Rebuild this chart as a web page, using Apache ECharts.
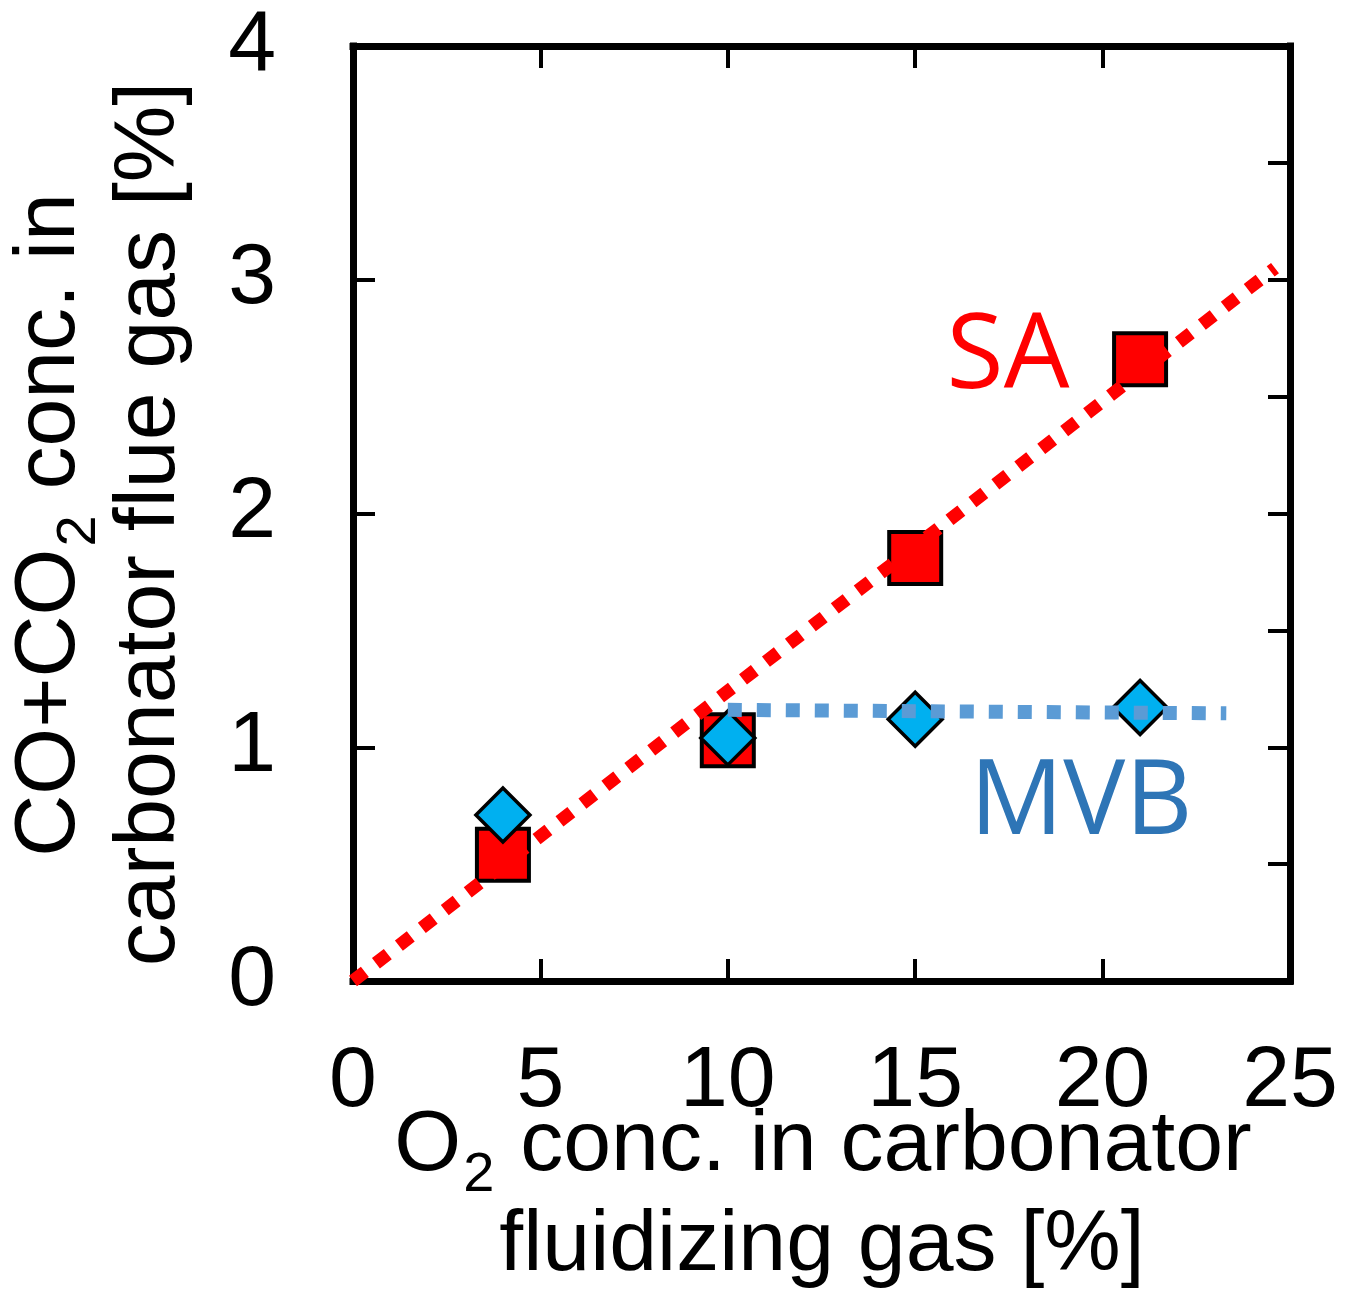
<!DOCTYPE html>
<html>
<head>
<meta charset="utf-8">
<script src="https://cdn.jsdelivr.net/npm/echarts@6/dist/echarts.min.js"></script>
<style>
  html, body { margin: 0; padding: 0; background: #fff; }
  #chart { width: 1346px; height: 1295px; }
</style>
</head>
<body>
<div id="chart"></div>
<script>
// 数据
const o2Conc = [4, 10, 15, 21];
const saValues = [0.54, 1.03, 1.81, 2.66];
const mvbValues = [0.71, 1.04, 1.12, 1.17];
// 趋势线端点
const saTrendX = [0, 24.6];
const saTrendY = [0, 3.05];
const mvbTrendX = [10, 23.3];
const mvbTrendY = [1.16, 1.145];
// 刻度
const xTicks = [0, 5, 10, 15, 20, 25];
const yTicks = [0, 1, 2, 3, 4];

const FONT = '"Liberation Sans", Arial, sans-serif';
const LABEL_FONT = '"Open Sans", "Noto Sans", sans-serif';

const pairs = (xs, ys) => xs.map((x, i) => [x, ys[i]]);

const frameLine = { show: true, onZero: false, lineStyle: { color: '#000', width: 7, cap: 'square' } };
const innerTick = { show: true, inside: true, length: 22, lineStyle: { color: '#000', width: 4 } };

const xBase = {
  type: 'value',
  min: xTicks[0],
  max: xTicks[xTicks.length - 1],
  interval: xTicks[1] - xTicks[0],
  axisLine: frameLine,
  axisTick: innerTick,
  splitLine: { show: false },
};
const yBase = {
  type: 'value',
  min: yTicks[0],
  max: yTicks[yTicks.length - 1],
  interval: yTicks[1] - yTicks[0],
  axisLine: frameLine,
  axisTick: innerTick,
  splitLine: { show: false },
};

const myChart = echarts.init(document.getElementById('chart'));

const option = {
  animation: false,
  backgroundColor: '#fff',
  grid: { left: 353, top: 46, right: 56, bottom: 314 },
  xAxis: [
    Object.assign({}, xBase, {
      position: 'bottom',
      axisLabel: { color: '#000', fontSize: 86, fontFamily: FONT, margin: 58 },
    }),
    Object.assign({}, xBase, {
      position: 'top',
      axisLabel: { show: false },
    }),
  ],
  yAxis: [
    Object.assign({}, yBase, {
      position: 'left',
      axisLabel: { color: '#000', fontSize: 86, fontFamily: FONT, margin: 77 },
    }),
    Object.assign({}, yBase, {
      position: 'right',
      interval: (yTicks[1] - yTicks[0]) / 2,
      axisLabel: { show: false },
    }),
  ],
  series: [
    {
      name: 'SA',
      type: 'scatter',
      z: 2,
      symbol: 'rect',
      symbolSize: 52,
      itemStyle: { color: '#ff0000', borderColor: '#000', borderWidth: 4, opacity: 1 },
      data: pairs(o2Conc, saValues),
    },
    {
      name: 'SA fit',
      type: 'line',
      z: 3,
      showSymbol: false,
      symbol: 'none',
      lineStyle: { color: '#ff0000', width: 13, type: [15, 14], cap: 'butt' },
      data: pairs(saTrendX, saTrendY),
    },
    {
      name: 'MVB',
      type: 'scatter',
      z: 4,
      symbol: 'diamond',
      symbolSize: 54,
      itemStyle: { color: '#00b0f0', borderColor: '#000', borderWidth: 3.5, opacity: 1 },
      data: pairs(o2Conc, mvbValues),
    },
    {
      name: 'MVB fit',
      type: 'line',
      z: 5,
      showSymbol: false,
      symbol: 'none',
      lineStyle: { color: '#5b9bd5', width: 14, type: [14, 15], cap: 'butt' },
      data: pairs(mvbTrendX, mvbTrendY),
    },
  ],
  graphic: [
    // x 轴标题
    {
      type: 'text', x: 823, y: 1146, z: 10,
      style: {
        text: '{a|O}{s|2}{a| conc. in carbonator}',
        fill: '#000', align: 'center', verticalAlign: 'middle',
        textAlign: 'center', textVerticalAlign: 'middle',
        rich: {
          a: { fontSize: 86, fontFamily: FONT, lineHeight: 100, fill: '#000' },
          s: { fontSize: 56, fontFamily: FONT, lineHeight: 40, padding: [60, 2, 0, 2], fill: '#000' },
        },
      },
    },
    {
      type: 'text', x: 822, y: 1246, z: 10,
      style: {
        text: 'fluidizing gas [%]', font: '86px ' + FONT,
        fill: '#000', align: 'center', verticalAlign: 'middle',
        textAlign: 'center', textVerticalAlign: 'middle',
      },
    },
    // y 轴标题
    {
      type: 'text', x: 50, y: 525, rotation: Math.PI / 2, z: 10,
      style: {
        text: '{a|CO+CO}{s|2}{a| conc. in}',
        fill: '#000', align: 'center', verticalAlign: 'middle',
        textAlign: 'center', textVerticalAlign: 'middle',
        rich: {
          a: { fontSize: 86, fontFamily: FONT, lineHeight: 100, fill: '#000' },
          s: { fontSize: 56, fontFamily: FONT, lineHeight: 40, padding: [60, 2, 0, 2], fill: '#000' },
        },
      },
    },
    {
      type: 'text', x: 150, y: 524, rotation: Math.PI / 2, z: 10,
      style: {
        text: 'carbonator flue gas [%]', font: '86px ' + FONT,
        fill: '#000', align: 'center', verticalAlign: 'middle',
        textAlign: 'center', textVerticalAlign: 'middle',
      },
    },
    // 系列标注
    {
      type: 'text', x: 1008, y: 358, z: 10,
      style: {
        text: 'SA', font: '104px ' + LABEL_FONT, fill: '#ff0000',
        align: 'center', verticalAlign: 'middle',
        textAlign: 'center', textVerticalAlign: 'middle',
      },
    },
    {
      type: 'text', x: 1081, y: 804, z: 10,
      style: {
        text: 'MVB', font: '104px ' + LABEL_FONT, fill: '#2e75b6',
        align: 'center', verticalAlign: 'middle',
        textAlign: 'center', textVerticalAlign: 'middle',
      },
    },
  ],
};

myChart.setOption(option);
</script>
</body>
</html>
